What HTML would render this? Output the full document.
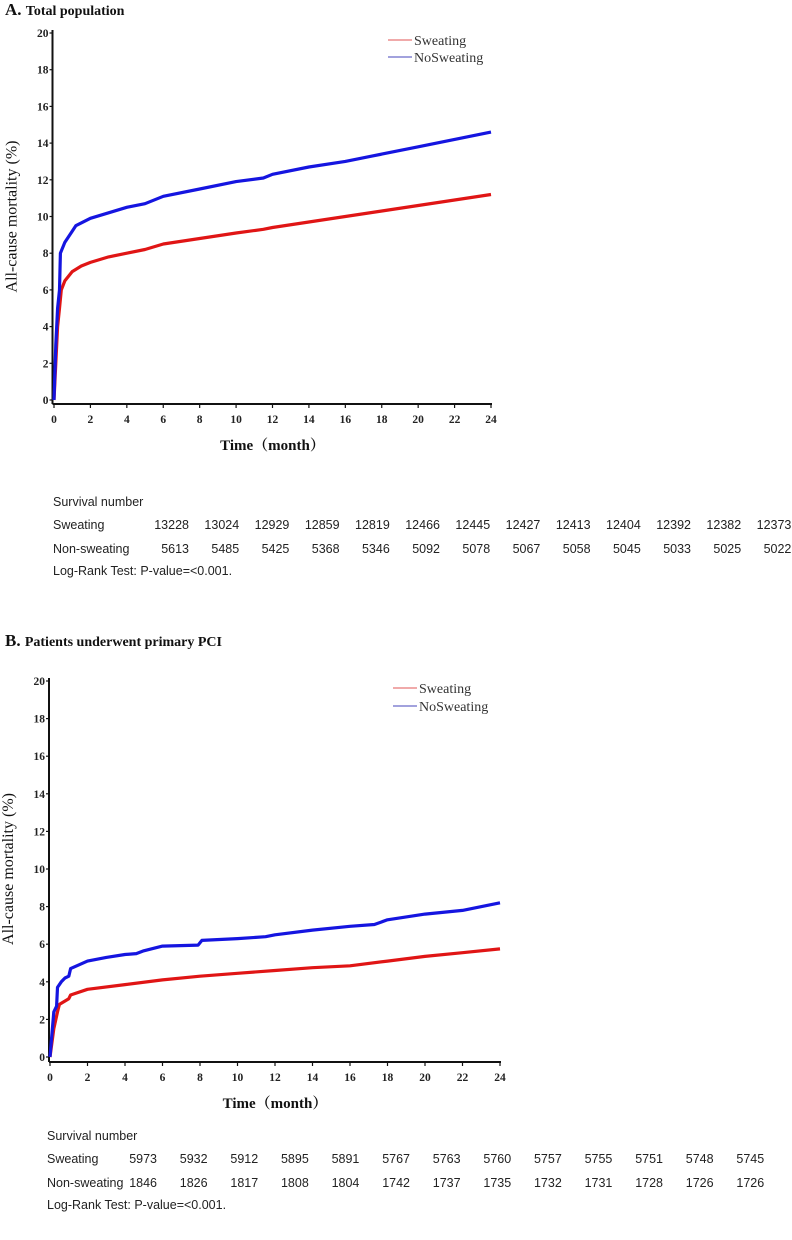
<!DOCTYPE html>
<html><head><meta charset="utf-8"><style>
html,body{margin:0;padding:0;background:#fff;width:792px;height:1240px;overflow:hidden}
svg{display:block}
.tk{font-family:"Liberation Serif",serif;font-size:11.5px;font-weight:bold;fill:#222}
.ttl{font-family:"Liberation Serif","Noto Serif CJK SC",serif;font-weight:bold;fill:#111}
.yt{font-family:"Liberation Serif",serif;font-weight:normal;font-size:16px;fill:#111}
.tb{font-family:"Liberation Sans",sans-serif;font-size:12.5px;fill:#222}
.lg{font-family:"Liberation Serif",serif;font-size:14px;fill:#333}
</style></head><body>
<svg id="svg" width="792" height="1240" viewBox="0 0 792 1240">
<text class="ttl" x="5" y="15" font-size="17">A. <tspan font-size="14">Total population</tspan></text>
<text class="ttl" x="5" y="646" font-size="17">B. <tspan font-size="14">Patients underwent primary PCI</tspan></text>
</svg>
<script>
const months = [0,2,4,6,8,10,12,14,16,18,20,22,24];
const yTicks = [0,2,4,6,8,10,12,14,16,18,20];
const aSweatT = [0,0.1,0.2,0.3,0.4,0.6,1,1.5,2,3,4,5,6,8,10,11.5,12,14,16,18,20,22,24];
const aSweatV = [0,2,4,5,6,6.5,7,7.3,7.5,7.8,8.0,8.2,8.5,8.8,9.1,9.3,9.4,9.7,10.0,10.3,10.6,10.9,11.2];
const aNoT = [0,0.1,0.2,0.3,0.35,0.6,1,1.2,2,3,4,5,6,8,10,11.5,12,14,16,17.5,18,20,22,24];
const aNoV = [0,3,5,6,8,8.6,9.2,9.5,9.9,10.2,10.5,10.7,11.1,11.5,11.9,12.1,12.3,12.7,13.0,13.3,13.4,13.8,14.2,14.6];
const bSweatT = [0,0.2,0.4,0.5,1,1.1,2,4,6,8,10,12,14,16,18,20,22,24];
const bSweatV = [0,1.5,2.4,2.8,3.1,3.3,3.6,3.85,4.1,4.3,4.45,4.6,4.75,4.85,5.1,5.35,5.55,5.75];
const bNoT = [0,0.2,0.35,0.4,0.6,0.8,1,1.1,2,3,4,4.6,5,6,7.9,8.1,10,11.5,12,14,16,17.3,18,20,22,24];
const bNoV = [0,2.4,2.7,3.7,4.0,4.2,4.3,4.7,5.1,5.3,5.45,5.5,5.65,5.9,5.95,6.2,6.3,6.4,6.5,6.75,6.95,7.05,7.3,7.6,7.8,8.2];
const aSweatN = [13228,13024,12929,12859,12819,12466,12445,12427,12413,12404,12392,12382,12373];
const aNoN = [5613,5485,5425,5368,5346,5092,5078,5067,5058,5045,5033,5025,5022];
const bSweatN = [5973,5932,5912,5895,5891,5767,5763,5760,5757,5755,5751,5748,5745];
const bNoN = [1846,1826,1817,1808,1804,1742,1737,1735,1732,1731,1728,1726,1726];

const svg = document.getElementById('svg');
const NS = 'http://www.w3.org/2000/svg';
function mk(tag, attrs, parent){const e=document.createElementNS(NS,tag);for(const k in attrs)e.setAttribute(k,attrs[k]);(parent||svg).appendChild(e);return e;}

function chart(p, key){
  const g = mk('g',{});
  
  
  const X = t => p.x0 + (p.x1-p.x0)*t/24;
  const Y = v => p.y0 - (p.y0-p.y20)*v/20;
  mk('line',{x1:p.ax,y1:p.y20-3,x2:p.ax,y2:p.axy,stroke:'#111','stroke-width':2},g);
  mk('line',{x1:p.ax,y1:p.axy,x2:X(24)+1,y2:p.axy,stroke:'#111','stroke-width':2},g);
  yTicks.forEach(v=>{
    mk('line',{x1:p.ax-3,y1:Y(v),x2:p.ax,y2:Y(v),stroke:'#111','stroke-width':1.2},g);
    const t=mk('text',{x:p.ax-4,y:Y(v)+4,'text-anchor':'end',class:'tk'},g);t.textContent=v;
    
    
  });
  months.forEach(m=>{
    mk('line',{x1:X(m),y1:p.axy,x2:X(m),y2:p.axy+4,stroke:'#111','stroke-width':1.2},g);
    const t=mk('text',{x:X(m),y:p.axy+19,'text-anchor':'middle',class:'tk'},g);t.textContent=m;
    
    
  });
  const yt=mk('text',{x:0,y:0,transform:`translate(${p.ax-36},${(p.y0+p.y20)/2}) rotate(-90)`,'text-anchor':'middle',class:'yt'},g);
  yt.textContent='All-cause mortality (%)';
  
  
  const xt=mk('text',{x:(X(0)+X(24))/2,y:p.axy+46,'text-anchor':'middle',class:'ttl','font-size':15},g);xt.textContent='Time（month）';
  
  
  function line(T,V,col,nm){
    let d='';T.forEach((t,i)=>{d+=(i?'L':'M')+X(t).toFixed(1)+','+Y(V[i]).toFixed(1);});
    const e=mk('path',{d,fill:'none',stroke:col,'stroke-width':3.2,'stroke-linejoin':'round'},g);
    
    
  }
  line(p.sT,p.sV,'#e01515','sweating-line');
  line(p.nT,p.nV,'#1515e0','nosweating-line');
  [['Sweating','#e05555',p.ly1],['NoSweating','#4444bb',p.ly2]].forEach(([lab,c,ly])=>{
    mk('line',{x1:p.lx,y1:ly,x2:p.lx+24,y2:ly,stroke:c,'stroke-width':1},g);
    const t=mk('text',{x:p.lx+26,y:ly+5,class:'lg'},g);t.textContent=lab;
    
    
  });
}
chart({ax:52.5,axy:404,x0:54,x1:491,y0:400,y20:33,lx:388,ly1:40,ly2:57,sT:aSweatT,sV:aSweatV,nT:aNoT,nV:aNoV},'panel-a');
chart({ax:49,axy:1062,x0:50,x1:500,y0:1057,y20:681,lx:393,ly1:688,ly2:706,sT:bSweatT,sV:bSweatV,nT:bNoT,nV:bNoV},'panel-b');

function table(t, key){
  const g=mk('g',{});
  
  
  const txt=(x,y,s,anc)=>{const e=mk('text',{x,y,class:'tb','text-anchor':anc||'start'},g);e.textContent=s;return e;};
  txt(t.lx,t.y0,'Survival number');
  txt(t.lx,t.y0+23,'Sweating');
  txt(t.lx,t.y0+47,'Non-sweating');
  txt(t.lx,t.y0+69,'Log-Rank Test: P-value=<0.001.');
  t.s.forEach((v,i)=>txt(t.r0+i*t.step,t.y0+23,v,'end'));
  t.n.forEach((v,i)=>txt(t.r0+i*t.step,t.y0+47,v,'end'));
}
table({lx:53,y0:506,r0:189,step:50.2,s:aSweatN,n:aNoN},'panel-a');
table({lx:47,y0:1140,r0:157,step:50.6,s:bSweatN,n:bNoN},'panel-b');
</script>
</body></html>
